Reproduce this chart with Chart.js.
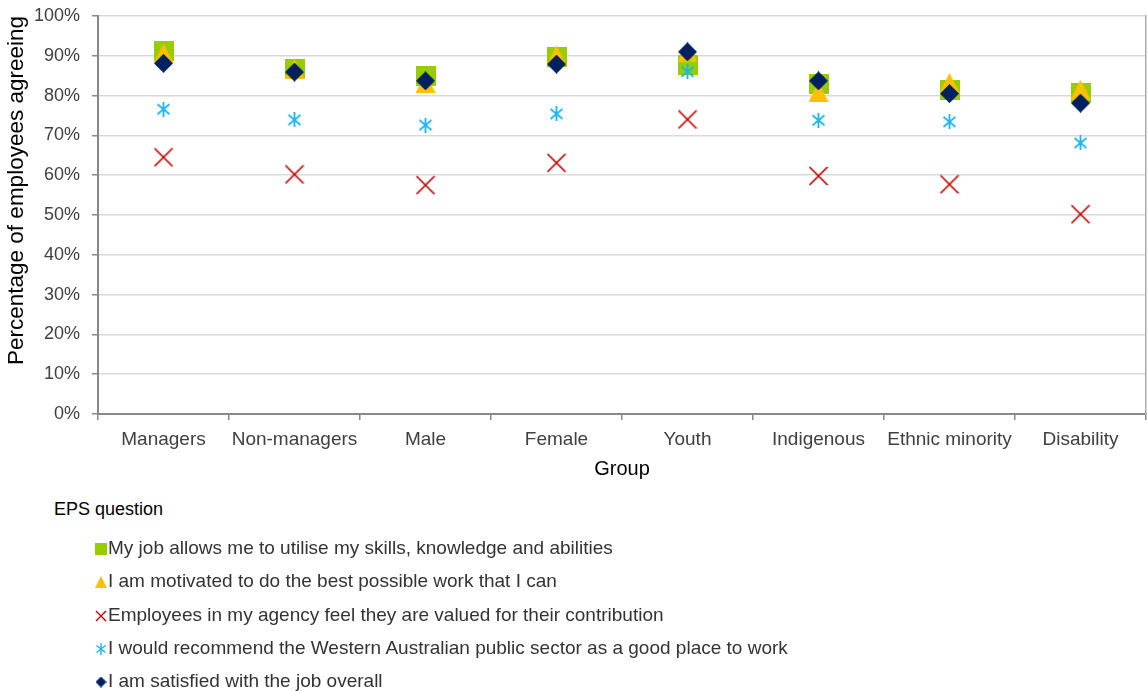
<!DOCTYPE html>
<html>
<head>
<meta charset="utf-8">
<script src="https://cdn.jsdelivr.net/npm/chart.js@4.4.1/dist/chart.umd.min.js"></script>
<style>
    html, body { margin: 0; background: #fff; overflow: hidden; font-family: "Liberation Sans", Arial, sans-serif; }
    #wrap { position: relative; width: 1148px; height: 691px; overflow: hidden; }
    #chartBox { position: absolute; left: 0; top: 0; width: 1148px; height: 490px; }
    #legend { position: absolute; left: 54px; top: 496px; color: #333; font-size: 19px; }
    #legend .title { color: #000; font-size: 18px; height: 26px; line-height: 26px; margin-bottom: 9px; }
    #legend .row { height: 33.3px; line-height: 33.3px; padding-left: 40px; white-space: nowrap; }
    #legend canvas { display: inline-block; vertical-align: middle; margin-right: 0; }
</style>
</head>
<body>
<div id="wrap">
    <div id="chartBox"><canvas id="chart"></canvas></div>
    <div id="legend"></div>
</div>
<script>
// Data (percent agreeing)
const groups = ['Managers', 'Non-managers', 'Male', 'Female', 'Youth', 'Indigenous', 'Ethnic minority', 'Disability'];
const utiliseSkills = [91.2, 86.8, 84.8, 89.8, 87.7, 82.9, 81.4, 80.6];
const motivated = [90.6, 86.7, 83.2, 90.1, 90.9, 80.9, 83.2, 81.5];
const feelValued = [64.5, 60.2, 57.5, 63.1, 74.0, 59.8, 57.7, 50.2];
const recommendSector = [76.6, 73.9, 72.6, 75.4, 86.0, 73.8, 73.4, 68.1];
const satisfiedOverall = [88.1, 85.9, 83.7, 87.9, 91.0, 83.7, 80.5, 78.1];
const yTicks = [0, 10, 20, 30, 40, 50, 60, 70, 80, 90, 100];

const questions = [
    'My job allows me to utilise my skills, knowledge and abilities',
    'I am motivated to do the best possible work that I can',
    'Employees in my agency feel they are valued for their contribution',
    'I would recommend the Western Australian public sector as a good place to work',
    'I am satisfied with the job overall'
];

// marker glyphs (Excel style), drawn once onto small canvases
function makeMarker(kind, color, size, lw) {
    const c = document.createElement('canvas');
    c.width = size;
    c.height = size;
    const g = c.getContext('2d');
    g.fillStyle = color;
    g.strokeStyle = color;
    g.lineWidth = lw || 1.5;
    const s = size, h = size / 2;
    if (kind === 'square') {
        g.fillRect(0, 0, s, s);
    } else if (kind === 'triangle') {
        g.beginPath();
        g.moveTo(h, 0);
        g.lineTo(s, s);
        g.lineTo(0, s);
        g.closePath();
        g.fill();
    } else if (kind === 'diamond') {
        g.beginPath();
        g.moveTo(h, 0);
        g.lineTo(s, h);
        g.lineTo(h, s);
        g.lineTo(0, h);
        g.closePath();
        g.fill();
    } else if (kind === 'cross') {
        g.beginPath();
        g.moveTo(1, 1); g.lineTo(s - 1, s - 1);
        g.moveTo(s - 1, 1); g.lineTo(1, s - 1);
        g.stroke();
    } else if (kind === 'star') {
        g.beginPath();
        g.moveTo(h, 0); g.lineTo(h, s);
        g.moveTo(1.5, 2.5); g.lineTo(s - 1.5, s - 2.5);
        g.moveTo(s - 1.5, 2.5); g.lineTo(1.5, s - 2.5);
        g.stroke();
    }
    return c;
}

const colors = ['#96CC00', '#FFC000', '#C00000', '#1CB5EE', '#002060'];
const kinds = ['square', 'triangle', 'cross', 'star', 'diamond'];
const chartSizes = [20, 20, 20, 15, 19];
const lineWidths = [1, 1, 1.7, 1.8, 1];
const legendSizes = [12, 12, 12, 12, 11];
const seriesValues = [utiliseSkills, motivated, feelValued, recommendSector, satisfiedOverall];
// later series sit on top of earlier ones
const drawOrder = [5, 4, 3, 2, 1];

const datasets = questions.map((q, i) => ({
    label: q,
    data: seriesValues[i],
    showLine: false,
    pointStyle: makeMarker(kinds[i], colors[i], chartSizes[i], lineWidths[i]),
    pointRadius: 10,
    pointHoverRadius: 10,
    backgroundColor: colors[i],
    borderColor: colors[i],
    order: drawOrder[i]
}));

Chart.defaults.font.family = '"Liberation Sans", Arial, sans-serif';

// keep the plot box where the reference has it (no extra label padding)
function noPad(s) {
    s.paddingTop = 0;
    s.paddingBottom = 0;
    s.paddingLeft = 0;
    s.paddingRight = 0;
}

new Chart(document.getElementById('chart'), {
    type: 'line',
    data: { labels: groups, datasets: datasets },
    options: {
        responsive: true,
        maintainAspectRatio: false,
        animation: false,
        layout: { autoPadding: false, padding: { top: 16, right: 2, bottom: 0, left: 0 } },
        plugins: {
            legend: { display: false },
            tooltip: { enabled: false }
        },
        scales: {
            x: {
                offset: true,
                afterFit: s => { s.height = 76; noPad(s); },
                grid: { offset: true, drawOnChartArea: false, tickLength: 6, color: '#888', lineWidth: 1.5 },
                border: { color: '#888', width: 2 },
                ticks: { color: '#404040', font: { size: 19 }, padding: 8, maxRotation: 0, autoSkip: false },
                title: { display: true, text: 'Group', color: '#000', font: { size: 20 }, padding: { top: 4, bottom: 9 } }
            },
            y: {
                min: 0,
                max: 100,
                afterFit: s => { s.width = 98; noPad(s); },
                afterBuildTicks: axis => { axis.ticks = yTicks.map(v => ({ value: v })); },
                ticks: { color: '#404040', font: { size: 18 }, padding: 12, callback: v => v + '%' },
                grid: { color: '#D9D9D9', lineWidth: 1.5, tickLength: 6, tickColor: '#888' },
                border: { color: '#888', width: 2 },
                title: {
                    display: true, align: 'end', text: 'Percentage of employees agreeing', color: '#000',
                    font: { size: 22.5 }, padding: { top: 3, bottom: 2 }
                }
            },
            yRight: {
                position: 'right',
                min: 0,
                max: 100,
                afterFit: s => { s.width = 0; noPad(s); },
                ticks: { display: false },
                grid: { display: false, drawTicks: false },
                border: { display: true, color: '#aaa', width: 1.5 }
            }
        }
    }
});

// legend below the chart
const legend = document.getElementById('legend');
const title = document.createElement('div');
title.className = 'title';
title.textContent = 'EPS question';
legend.appendChild(title);
questions.forEach((q, i) => {
    const row = document.createElement('div');
    row.className = 'row';
    const box = document.createElement('canvas');
    box.width = 14;
    box.height = 14;
    const m = makeMarker(kinds[i], colors[i], legendSizes[i], 1.4);
    box.getContext('2d').drawImage(m, (14 - m.width) / 2, (14 - m.height) / 2);
    row.appendChild(box);
    row.appendChild(document.createTextNode(q));
    legend.appendChild(row);
});
</script>
</body>
</html>
